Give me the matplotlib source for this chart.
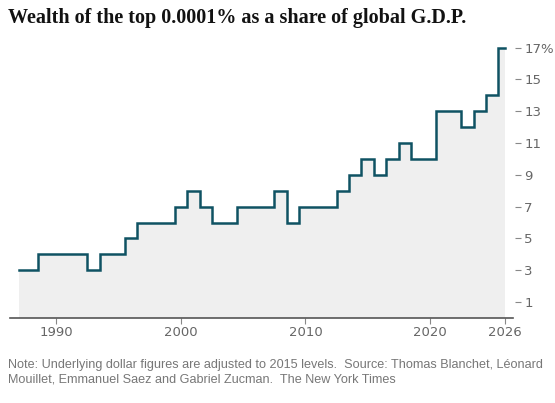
import matplotlib
matplotlib.use("Agg")
import matplotlib.pyplot as plt
import numpy as np
import matplotlib.transforms as mtrans

years = list(range(1987, 2027))
values = [3, 3, 4, 4, 4, 4, 3, 4, 4, 5, 6, 6, 6, 7, 8, 7, 6, 6, 7, 7, 7, 8, 6, 7,
          7, 7, 8, 9, 10, 9, 10, 11, 10, 10, 13, 13, 12, 13, 14, 17]
yticks = [1, 3, 5, 7, 9, 11, 13, 15, 17]
ytick_labels = ["1", "3", "5", "7", "9", "11", "13", "15", "17%"]
xticks = [1990, 2000, 2010, 2020, 2026]
xtick_labels = ["1990", "2000", "2010", "2020", "2026"]

W, H = 555, 403
fig = plt.figure(figsize=(W/100, H/100), dpi=100)
ax = fig.add_axes([10/W, (H-318)/H, (513-10)/W, (318-38)/H])

x = np.array(years, dtype=float)
edges = np.concatenate([[x[0]], (x[:-1] + x[1:]) / 2, [x[-1]]])
v = np.array(values, dtype=float)
sx = np.repeat(edges, 2)[1:-1]
sy = np.repeat(v, 2)
ax.fill_between(sx, sy, 0, color="#efefef", lw=0)
ax.plot(sx, sy, color="#0f5263", lw=1.8, solid_joinstyle="miter")

ax.set_xlim(1986.28, 2026.67)
ax.set_ylim(0, 17.6)
for s in ["top", "left", "right"]:
    ax.spines[s].set_visible(False)
ax.spines["bottom"].set_color("#555555")
ax.spines["bottom"].set_linewidth(1.2)
ax.set_xticks(xticks)
ax.set_xticklabels(xtick_labels)
ax.tick_params(axis="x", length=4, color="#888888", labelsize=9.5, labelcolor="#666666", pad=2)
ax.yaxis.tick_right()
ax.set_yticks(yticks)
ax.set_yticklabels(ytick_labels)
ax.tick_params(axis="y", length=4, color="#888888", labelsize=9.5, labelcolor="#666666", pad=4, direction="out")
for t in ax.yaxis.get_major_ticks():
    t.tick2line.set_transform(t.tick2line.get_transform() + mtrans.ScaledTranslation(2/100, 0, fig.dpi_scale_trans))

fig.text(8/W, 1-18/H, "Wealth of the top 0.0001% as a share of global G.D.P.",
         fontfamily="Liberation Serif", fontweight="bold", fontsize=14.5, va="center", ha="left", color="#121212")
fig.text(8/W, 1-365/H, "Note: Underlying dollar figures are adjusted to 2015 levels.  Source: Thomas Blanchet, Léonard",
         fontfamily="Liberation Sans", fontsize=9.1, va="center", ha="left", color="#777777")
fig.text(8/W, 1-380/H, "Mouillet, Emmanuel Saez and Gabriel Zucman.  The New York Times",
         fontfamily="Liberation Sans", fontsize=9.1, va="center", ha="left", color="#777777")

fig.savefig("out.png", dpi=100)
